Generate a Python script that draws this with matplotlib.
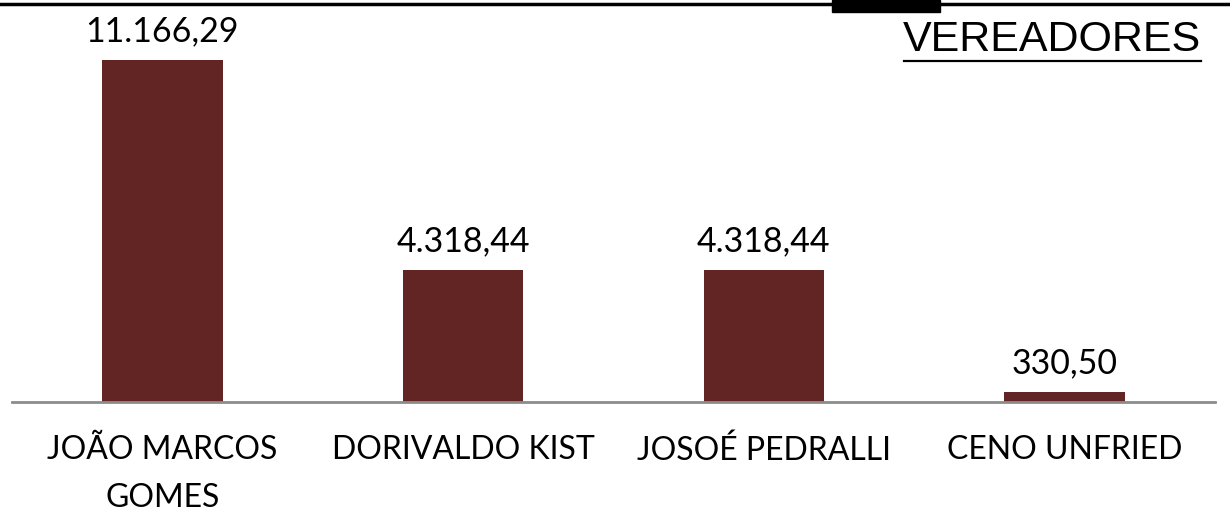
import matplotlib
matplotlib.use('Agg')
import matplotlib.pyplot as plt
from matplotlib.patches import Rectangle
from matplotlib.lines import Line2D

# data
nomes = ['JOÃO MARCOS\nGOMES', 'DORIVALDO KIST', 'JOSOÉ PEDRALLI', 'CENO UNFRIED']
valores = [11166.29, 4318.44, 4318.44, 330.50]
rotulos = ['11.166,29', '4.318,44', '4.318,44', '330,50']
titulo = 'VEREADORES'

W, H = 1230, 529
fig = plt.figure(figsize=(W / 100, H / 100), dpi=100)

# axes placed in pixel terms: baseline y=402, left 12, right 1215, top 20
ax = fig.add_axes([12 / W, (H - 402) / H, (1215 - 12) / W, (402 - 20) / H])
ax.bar(range(len(valores)), valores, width=0.4, color='#632523')
ax.set_xlim(-0.5, 3.5)
ax.set_ylim(0, 12472)
for s in ['top', 'right', 'left']:
    ax.spines[s].set_visible(False)
ax.spines['bottom'].set_color('#8c8c8c')
ax.spines['bottom'].set_linewidth(2)
ax.set_yticks([])
ax.set_xticks(range(len(nomes)))
ax.set_xticklabels(nomes, fontsize=23, family='Lato', linespacing=1.75)
ax.tick_params(axis='x', length=0, pad=24)

for i, v in enumerate(valores):
    ax.annotate(rotulos[i], (i, v), xytext=(0, 9), textcoords='offset points',
                ha='center', va='bottom', fontsize=24.5, family='Lato')

# title with underline
fig.text(1201 / W, 1 - 40 / H, titulo, ha='right', va='center', fontsize=31,
         family='Liberation Sans')
fig.add_artist(Line2D([904 / W, 1201 / W], [1 - 61 / H, 1 - 61 / H],
                      color='black', lw=1.6, transform=fig.transFigure))

# top rule and black tab
fig.add_artist(Line2D([0, 1], [1 - 4 / H, 1 - 4 / H], color='black', lw=2.5,
                      transform=fig.transFigure))
fig.add_artist(Rectangle((832 / W, 1 - 12 / H), 108 / W, 12 / H, color='black',
                         transform=fig.transFigure))

fig.savefig('out.png', dpi=100)
